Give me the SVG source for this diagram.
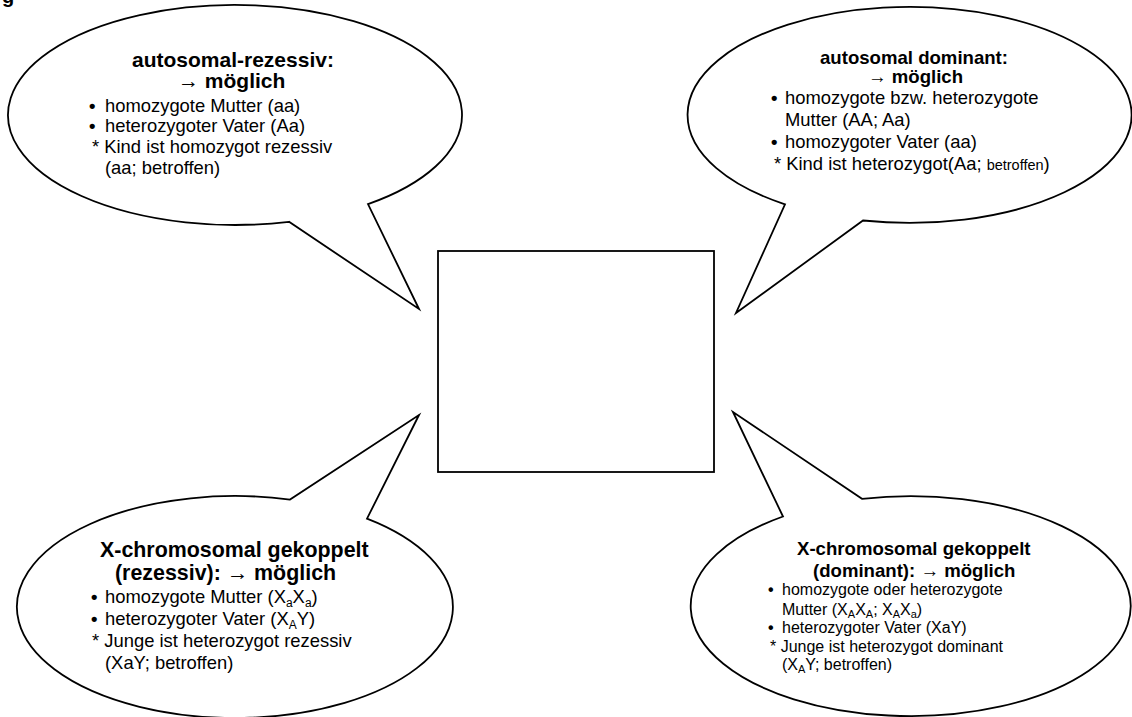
<svg xmlns="http://www.w3.org/2000/svg" width="1132" height="717" viewBox="0 0 1132 717">
<style>
.shape{fill:#fff;stroke:#000;stroke-width:1.8;stroke-linejoin:miter}
text{font-family:"Liberation Sans",Arial,sans-serif;fill:#000}
.h{font-weight:bold}
.bu{font-weight:bold}
.s{font-size:12px}
.s2{font-size:11px}
</style>
<rect width="1132" height="717" fill="#fff"/>
<text class="h" x="2" y="3" font-size="20">g</text>
<g id="connectors">
</g>
<g id="center-box">
<rect class="shape" x="438" y="251" width="276" height="221"/>
</g>
<g id="bubble-autosomal-rezessiv">
<path class="shape" d="M368 204.1 A227 110 0 1 0 289 221.8 L419 309 Z"/>
<text class="h" font-size="21" x="132" y="67">autosomal-rezessiv:</text>
<text class="h" font-size="21" x="178" y="88">→ möglich</text>
<g font-size="18.4">
<text class="bu" x="89" y="112">•</text><text x="105" y="112">homozygote Mutter (aa)</text>
<text class="bu" x="89" y="132">•</text><text x="105" y="132">heterozygoter Vater (Aa)</text>
<text x="92" y="153">* Kind ist homozygot rezessiv</text>
<text x="105" y="174">(aa; betroffen)</text>
</g>
</g>
<g id="bubble-autosomal-dominant">
<path class="shape" d="M863 220.5 A222 108 0 1 0 785 204.3 L736 313 Z"/>
<text class="h" font-size="18.6" x="820" y="64">autosomal dominant:</text>
<text class="h" font-size="18.6" x="868" y="83">→ möglich</text>
<g font-size="18.4">
<text class="bu" x="771" y="104">•</text><text x="785" y="104">homozygote bzw. heterozygote</text>
<text x="785" y="126">Mutter (AA; Aa)</text>
<text class="bu" x="771" y="148">•</text><text x="785" y="148">homozygoter Vater (aa)</text>
<text x="774" y="170">* Kind ist heterozygot(Aa; <tspan font-size="14.5">betroffen</tspan>)</text>
</g>
</g>
<g id="bubble-x-rezessiv">
<path class="shape" d="M290 499.6 A218 111 0 1 0 367 518.7 L419 415 Z"/>
<text class="h" font-size="21.4" x="100" y="557">X-chromosomal gekoppelt</text>
<text class="h" font-size="21.4" x="115" y="580">(rezessiv): → möglich</text>
<g font-size="18.4">
<text class="bu" x="91" y="603">•</text><text x="105" y="603">homozygote Mutter (X<tspan class="s" dy="4">a</tspan><tspan dy="-4">X</tspan><tspan class="s" dy="4">a</tspan><tspan dy="-4">)</tspan></text>
<text class="bu" x="91" y="625">•</text><text x="105" y="625">heterozygoter Vater (X<tspan class="s" dy="4">A</tspan><tspan dy="-4">Y)</tspan></text>
<text x="92" y="647">* Junge ist heterozygot rezessiv</text>
<text x="105" y="669">(XaY; betroffen)</text>
</g>
</g>
<g id="bubble-x-dominant">
<path class="shape" d="M862 498.8 A220 110 0 1 1 783 516.5 L733 412 Z"/>
<text class="h" font-size="18.6" x="797" y="555">X-chromosomal gekoppelt</text>
<text class="h" font-size="18.6" x="813" y="577">(dominant): → möglich</text>
<g font-size="16">
<text class="bu" x="768" y="595">•</text><text x="782" y="595">homozygote oder heterozygote</text>
<text x="782" y="615">Mutter (X<tspan class="s2" dy="3">A</tspan><tspan dy="-3">X</tspan><tspan class="s2" dy="3">A</tspan><tspan dy="-3">; X</tspan><tspan class="s2" dy="3">A</tspan><tspan dy="-3">X</tspan><tspan class="s2" dy="3">a</tspan><tspan dy="-3">)</tspan></text>
<text class="bu" x="768" y="633">•</text><text x="782" y="633">heterozygoter Vater (XaY)</text>
<text x="770" y="652">* Junge ist heterozygot dominant</text>
<text x="782" y="670">(X<tspan class="s2" dy="3">A</tspan><tspan dy="-3">Y; betroffen)</tspan></text>
</g>
</g>
</svg>
